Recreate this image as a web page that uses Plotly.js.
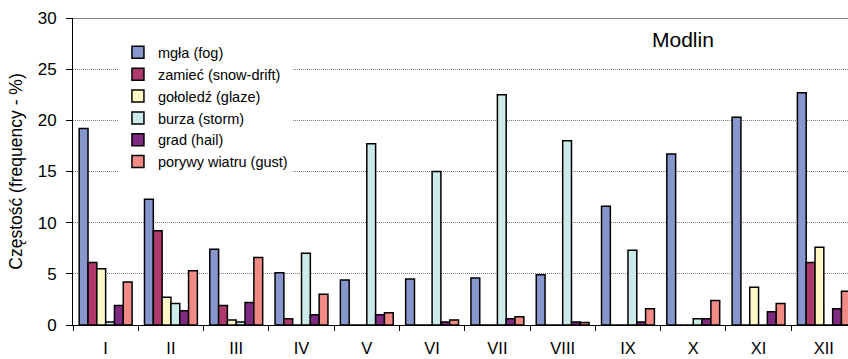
<!DOCTYPE html>
<html>
<head>
<meta charset="utf-8">
<script src="https://cdn.plot.ly/plotly-3.0.1.min.js"></script>
<style>
html,body{margin:0;padding:0;background:#fff;overflow:hidden;}
#chart{width:848px;height:359px;}
</style>
</head>
<body>
<div id="chart"></div>
<script>
const months = ['I','II','III','IV','V','VI','VII','VIII','IX','X','XI','XII'];
const seriesNames = ['mgła (fog)','zamieć (snow-drift)','gołoledź (glaze)','burza (storm)','grad (hail)','porywy wiatru (gust)'];
const fog       = [19.2, 12.3, 7.4, 5.1, 4.4, 4.5, 4.6, 4.9, 11.6, 16.7, 20.3, 22.7];
const snowDrift = [6.1, 9.2, 1.9, 0.6, 0, 0, 0, 0, 0, 0, 0, 6.1];
const glaze     = [5.5, 2.7, 0.5, 0, 0, 0, 0, 0, 0, 0, 3.7, 7.6];
const storm     = [0.3, 2.1, 0.3, 7.0, 17.7, 15.0, 22.5, 18.0, 7.3, 0.6, 0, 0];
const hail      = [1.9, 1.4, 2.2, 1.0, 1.0, 0.3, 0.6, 0.3, 0.3, 0.6, 1.3, 1.6];
const gust      = [4.2, 5.3, 6.6, 3.0, 1.2, 0.5, 0.8, 0.25, 1.6, 2.4, 2.1, 3.3];
const colors = ['#8797CD','#AE3A6C','#FFF8C6','#CBEAEA','#7E2A80','#F28A86'];
const allSeries = [fog, snowDrift, glaze, storm, hail, gust];

const FONT = '"Liberation Sans", Arial, sans-serif';

const traces = allSeries.map((vals, i) => ({
  type: 'bar',
  name: seriesNames[i],
  x: months,
  y: vals,
  legendgroup: 'g' + i,
  marker: {color: colors[i], line: {color: '#000', width: 1.5}},
  hoverinfo: 'x+y+name'
}));

const layout = {
  width: 848, height: 359,
  margin: {l: 73, r: 0, t: 18, b: 34},
  paper_bgcolor: '#fff', plot_bgcolor: '#fff',
  font: {family: FONT, color: '#000', size: 15},
  barmode: 'group',
  bargap: 0.19,
  bargroupgap: 0,
  showlegend: true,
  legend: {
    x: 0.058, y: 0.94, xanchor: 'left', yanchor: 'top',
    bgcolor: '#fff', borderwidth: 0,
    font: {family: FONT, size: 14.5, color: '#000'},
    tracegroupgap: 0, traceorder: 'normal', itemwidth: 30
  },
  xaxis: {
    type: 'category', categoryorder: 'array', categoryarray: months,
    range: [-0.5, 11.37],
    tickson: 'boundaries', ticks: 'outside', ticklen: 5, tickcolor: '#000', tickwidth: 1,
    showline: true, linecolor: '#000', linewidth: 1,
    showgrid: false, zeroline: false,
    tickfont: {family: FONT, size: 16.5, color: '#000'},
    ticklabelstandoff: 8,
    fixedrange: true
  },
  yaxis: {
    range: [0, 30], dtick: 5, tick0: 0,
    ticks: 'outside', ticklen: 6, tickcolor: '#000', tickwidth: 1,
    showline: true, linecolor: '#000', linewidth: 1,
    showgrid: true, gridcolor: '#7a7a7a', gridwidth: 1, griddash: '1px,1px',
    zeroline: false,
    tickfont: {family: FONT, size: 17, color: '#000'},
    ticklabelstandoff: 6,
    title: {text: 'Częstość (frequency - %)', font: {family: FONT, size: 17.5, color: '#000'}, standoff: 10},
    fixedrange: true
  },
  shapes: [{
    type: 'line', xref: 'paper', yref: 'y', x0: 0, x1: 1, y0: 30, y1: 30,
    line: {color: '#8a8a8a', width: 2}
  }],
  annotations: [{
    text: 'Modlin', xref: 'paper', yref: 'paper', x: 0.745, y: 0.93,
    xanchor: 'left', yanchor: 'middle', showarrow: false,
    font: {family: FONT, size: 21, color: '#000'}
  }]
};

Plotly.newPlot('chart', traces, layout, {displayModeBar: false, staticPlot: true});
</script>
</body>
</html>
